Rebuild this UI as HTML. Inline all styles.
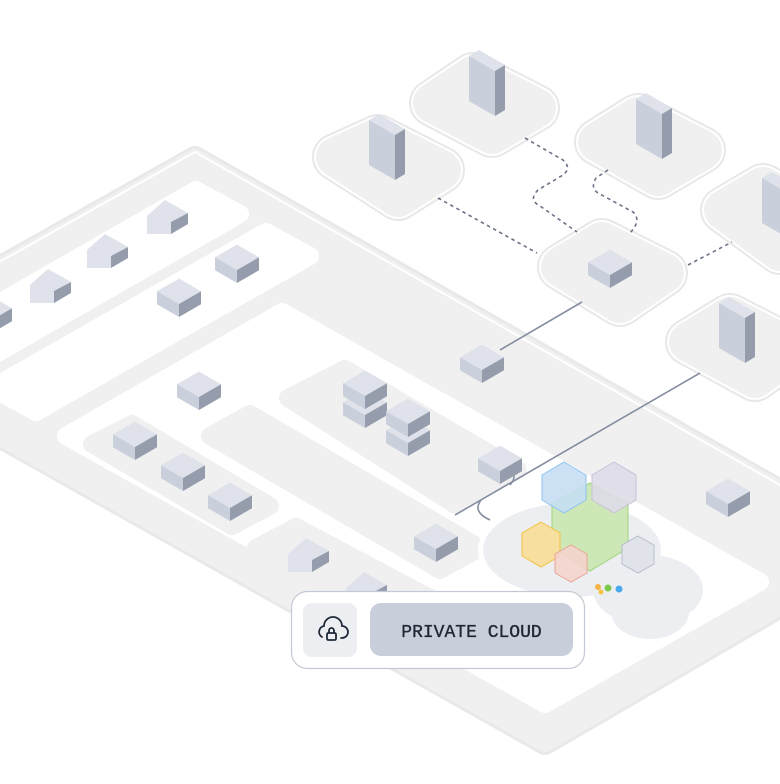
<!DOCTYPE html>
<html><head><meta charset="utf-8"><style>
html,body{margin:0;padding:0;background:#fff;width:780px;height:784px;overflow:hidden}
svg{display:block}
</style></head><body>
<svg width="780" height="784" viewBox="0 0 780 784" xmlns="http://www.w3.org/2000/svg">
<defs>
<g id="cube">
<polygon points="0,-13 -22,-25.7 0,-38.4 22,-25.7" fill="#dfe2ea"/>
<polygon points="0,0 -22,-12.7 -22,-25.7 0,-13" fill="#c9cfdb"/>
<polygon points="0,0 22,-12.7 22,-25.7 0,-13" fill="#959dad"/>
</g>
<g id="house">
<polygon points="-24,0 -24,-18 -6,-34 17,-21 0,-12 0,0" fill="#dfe2ea"/>
<polygon points="0,0 17,-10 17,-21 0,-12" fill="#959dad"/>
</g>
<g id="tower">
<polygon points="0,-45 -26,-60 -16,-66 10,-51" fill="#dfe2ea"/>
<polygon points="0,0 -26,-15 -26,-60 0,-45" fill="#c9cfdb"/>
<polygon points="0,0 10,-6 10,-51 0,-45" fill="#959dad"/>
</g>
<g id="tiles">
<polygon points="473,76 536,108 492,134 433,103"/>
<polygon points="378,138 441,170 398,197 336,157"/>
<polygon points="638,117 702,150 658,176 598,142"/>
<polygon points="602,242 664,273 620,303 561,267"/>
<polygon points="763,187 824,220 780,251 724,210"/>
<polygon points="730,317 794,350 755,378 689,342"/>
</g>
</defs>

<!-- platform -->
<polygon points="195,158 880,548 545,743 -150,352" fill="#f0f0f0" stroke="#e9e9e9" stroke-width="24" stroke-linejoin="round"/>
<polygon points="195,158 880,548 545,743 -150,352" fill="#f0f0f0" stroke="#f0f0f0" stroke-width="18" stroke-linejoin="round"/>
<polyline points="-150,352 195,158 880,548" fill="none" stroke="#fff" stroke-width="2" stroke-linejoin="round" transform="translate(0,-6)"/>

<!-- white streets -->
<g fill="#fff" stroke="#fff" stroke-width="18" stroke-linejoin="round">
<polygon points="196,190 240,214 -60,386 -104,362"/>
<polygon points="266,232 310,256 36,412 -8,388"/>
<polygon points="282,312 760,582 545,704 66,436"/>
</g>
<!-- grey sub-blocks -->
<g fill="#f0f0f0" stroke="#f0f0f0" stroke-width="18" stroke-linejoin="round">
<polygon points="345,369 518,470 454,504 288,398"/>
<polygon points="250,414 480,548 440,570 210,436"/>
<polygon points="132,424 270,506 232,526 92,444"/>
<polygon points="296,527 430,598 392,620 256,548"/>
</g>

<!-- top tiles -->
<g stroke-linejoin="round">
<use href="#tiles" fill="#f0f0f0" stroke="#e8e8e8" stroke-width="48"/>
<use href="#tiles" fill="#f0f0f0" stroke="#fff" stroke-width="44"/>
<use href="#tiles" fill="#f0f0f0" stroke="#f0f0f0" stroke-width="40"/>
</g>

<!-- connectors -->
<g fill="none" stroke="#6b7385" stroke-width="1.6" stroke-dasharray="3.5 3.5">
<path d="M438,198 L537,253"/>
<path d="M525,138 L563,160 Q572,168 563,175 L538,190 Q528,200 540,206 L577,232"/>
<path d="M608,170 L596,178 Q590,188 598,193 L633,212 Q642,220 630,233"/>
<path d="M688,265 L732,242"/>
</g>
<g fill="none" stroke="#858ea0" stroke-width="1.6">
<path d="M582,302 L500,350"/>
<path d="M700,373 L455,515"/>
<path d="M505,465 Q520,474 510,485"/>
<path d="M481,500 Q472,512 490,520"/>
</g>

<!-- towers -->
<use href="#tower" x="495" y="116"/>
<use href="#tower" x="395" y="180"/>
<use href="#tower" x="662" y="159"/>
<use href="#tower" x="788" y="238"/>
<use href="#tower" x="745" y="363"/>

<!-- cubes -->
<use href="#cube" x="610" y="288"/>
<use href="#cube" x="482" y="383"/>
<use href="#cube" x="237" y="283"/>
<use href="#cube" x="179" y="317"/>
<use href="#cube" x="-10" y="334"/>
<use href="#cube" x="199" y="410"/>
<use href="#cube" x="135" y="460"/>
<use href="#cube" x="183" y="491"/>
<use href="#cube" x="230" y="521"/>
<use href="#cube" x="365" y="428"/>
<use href="#cube" x="365" y="409"/>
<use href="#cube" x="408" y="456"/>
<use href="#cube" x="408" y="437"/>
<use href="#cube" x="500" y="484"/>
<use href="#cube" x="436" y="562"/>
<use href="#cube" x="728" y="517"/>

<!-- houses -->
<use href="#house" x="54" y="303"/>
<use href="#house" x="111" y="268"/>
<use href="#house" x="171" y="234"/>
<use href="#house" x="312" y="572"/>
<use href="#house" x="370" y="606"/>

<!-- cloud -->
<g fill="#fff">
<ellipse cx="572" cy="550" rx="94" ry="52"/>
<ellipse cx="648" cy="590" rx="60" ry="40"/>
<ellipse cx="650" cy="612" rx="44" ry="32"/>
</g>
<g fill="#eceef2">
<ellipse cx="572" cy="550" rx="89" ry="47"/>
<ellipse cx="648" cy="590" rx="55" ry="35"/>
<ellipse cx="650" cy="612" rx="39" ry="27"/>
</g>

<!-- hexagons -->
<polygon points="590,483 628,503 628,548 590,571 552,548 552,503" fill="#cde8b6" stroke="#9fd37a" stroke-width="1"/>
<polygon points="564,462 586,475 586,500 564,513 542,500 542,475" fill="#c6dff3" fill-opacity="0.9" stroke="#8ec3ee" stroke-width="1"/>
<polygon points="614,462 636,475 636,500 614,513 592,500 592,475" fill="#dedbe8" fill-opacity="0.9" stroke="#c8c0d8" stroke-width="1"/>
<polygon points="541,522 560,533 560,556 541,567 522,556 522,533" fill="#f7dfa0" stroke="#f3c23f" stroke-width="1"/>
<polygon points="571,545 587,554 587,573 571,582 555,573 555,554" fill="#f4d4cc" fill-opacity="0.9" stroke="#eaa594" stroke-width="1"/>
<polygon points="638,536 654,545 654,564 638,573 622,564 622,545" fill="#e1e3ea" stroke="#b8bdca" stroke-width="1"/>
<circle cx="598" cy="587" r="3" fill="#f5b545"/>
<circle cx="608" cy="588" r="3.5" fill="#7cc94f"/>
<circle cx="619" cy="589" r="3.5" fill="#4aa8ee"/>
<circle cx="601" cy="592" r="2.5" fill="#f3c23f"/>

<!-- label card -->
<rect x="291.5" y="591.5" width="293" height="77" rx="16" fill="#fff" stroke="#c4cad5" stroke-width="1.2"/>
<rect x="303" y="603" width="54" height="54" rx="9" fill="#eceef2"/>
<rect x="370" y="603" width="203" height="53" rx="11" fill="#c8cfdb"/>
<text x="471.5" y="637" text-anchor="middle" font-family="Liberation Mono, monospace" font-size="18" fill="#1f2735" stroke="#1f2735" stroke-width="0.35">PRIVATE CLOUD</text>
<!-- cloud lock icon -->
<g fill="none" stroke="#1f2937" stroke-width="1.8" stroke-linecap="round">
<path d="M322,637 A6,6 0 0 1 324,626 A9,9 0 0 1 342,626 A6,6 0 0 1 342,638 L341,638"/>
<rect x="327" y="633" width="9" height="7" rx="1.2"/>
<path d="M329,633 V630.5 A2.5,2.5 0 0 1 334,630.5 V633"/>
</g>
</svg>
</body></html>
